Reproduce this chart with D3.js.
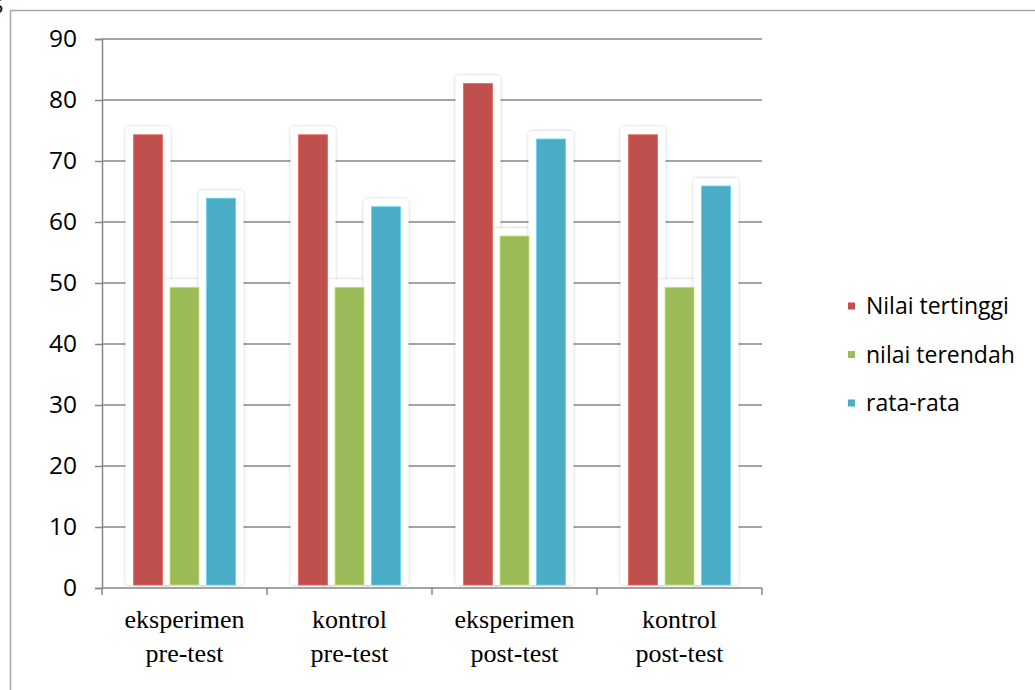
<!DOCTYPE html>
<html>
<head>
<meta charset="utf-8">
<script src="https://cdn.jsdelivr.net/npm/d3@7"></script>
<style>
  html, body { margin: 0; padding: 0; background: #fff; }
  svg { display: block; }
</style>
</head>
<body>
<svg id="chart" width="1035" height="690"></svg>
<script>
// Test groups (two-line labels)
const categories = [
  ["eksperimen", "pre-test"],
  ["kontrol", "pre-test"],
  ["eksperimen", "post-test"],
  ["kontrol", "post-test"]
];
const seriesNames = ["Nilai tertinggi", "nilai terendah", "rata-rata"];
const nilaiTertinggi = [74.3, 74.3, 82.7, 74.3];
const nilaiTerendah  = [49.3, 49.3, 57.7, 49.3];
const rataRata       = [63.9, 62.5, 73.6, 65.9];
const yTicks = [0, 10, 20, 30, 40, 50, 60, 70, 80, 90];
const colors = ["#C0504D", "#9BBB59", "#4BACC6"];

const seriesValues = [nilaiTertinggi, nilaiTerendah, rataRata];

const svg = d3.select("#chart");

// soft shadow behind the white bar halo
const defs = svg.append("defs");
const f = defs.append("filter").attr("id", "halo")
  .attr("x", "-30%").attr("y", "-30%").attr("width", "160%").attr("height", "160%");
f.append("feDropShadow").attr("dx", 0).attr("dy", 0)
  .attr("stdDeviation", 1.8).attr("flood-color", "#000").attr("flood-opacity", 0.25);

// outer frame
svg.append("path")
  .attr("d", "M10.5,700 L10.5,10.5 L1040,10.5")
  .attr("fill", "none").attr("stroke", "#a6a6a6").attr("stroke-width", 1.5);

svg.append("text")
  .attr("x", -7).attr("y", 13)
  .attr("font-family", "Liberation Serif").attr("font-size", 20)
  .attr("fill", "#000").text("5");

const plot = { left: 102, right: 762, top: 39, bottom: 588 };

const x = d3.scaleBand()
  .domain(d3.range(categories.length))
  .range([plot.left, plot.right])
  .paddingInner(0).paddingOuter(0);

const y = d3.scaleLinear().domain([0, 90]).range([plot.bottom, plot.top]);

const g = svg.append("g");

// horizontal gridlines
g.selectAll("line.grid")
  .data(yTicks.filter(d => d > 0))
  .join("line")
  .attr("class", "grid")
  .attr("x1", plot.left).attr("x2", plot.right)
  .attr("y1", d => y(d)).attr("y2", d => y(d))
  .attr("stroke", "#868686").attr("stroke-width", 1.5);

// y axis
const yAxis = d3.axisLeft(y).tickValues(yTicks).tickSize(7).tickPadding(18);
const yg = g.append("g").attr("transform", `translate(${plot.left},0)`).call(yAxis);
yg.select(".domain").attr("stroke", "#868686").attr("stroke-width", 1.5);
yg.selectAll(".tick line").attr("stroke", "#868686").attr("stroke-width", 1.5);
yg.selectAll(".tick text")
  .attr("font-family", "'Open Sans', Lato, sans-serif")
  .attr("font-size", 24.5).attr("fill", "#000");

// bars
const barW = 29, gap = 7.5;
const groupW = barW * 3 + gap * 2;
const bars = [];
categories.forEach((c, i) => {
  seriesValues.forEach((vals, s) => {
    bars.push({ cat: i, s, v: vals[i] });
  });
});
const bx = d => x(d.cat) + x.bandwidth() / 2 - groupW / 2 + d.s * (barW + gap);

const halo = 8;
g.selectAll("rect.halo").data(bars).join("rect")
  .attr("class", "halo")
  .attr("x", d => bx(d) - halo)
  .attr("y", d => y(d.v) - halo)
  .attr("width", barW + halo * 2)
  .attr("height", d => y(0) - 3 - y(d.v) + halo)
  .attr("rx", 4)
  .attr("fill", "#fff")
  .attr("filter", "url(#halo)");

g.selectAll("rect.bar").data(bars).join("rect")
  .attr("class", "bar")
  .attr("x", d => bx(d))
  .attr("y", d => y(d.v))
  .attr("width", barW)
  .attr("height", d => y(0) - 3 - y(d.v))
  .attr("fill", d => colors[d.s])
  .attr("stroke", d => d3.color(colors[d.s]).brighter(0.6))
  .attr("stroke-width", 0.8);

// x axis
const xg = g.append("g").attr("transform", `translate(0,${plot.bottom})`);
xg.append("line")
  .attr("x1", plot.left).attr("x2", plot.right)
  .attr("stroke", "#868686").attr("stroke-width", 1.5);
xg.selectAll("line.tick")
  .data(d3.range(categories.length + 1))
  .join("line").attr("class", "tick")
  .attr("x1", d => plot.left + d * x.bandwidth())
  .attr("x2", d => plot.left + d * x.bandwidth())
  .attr("y1", 0).attr("y2", 7)
  .attr("stroke", "#868686").attr("stroke-width", 1.5);

const lbl = xg.selectAll("text.cat").data(categories).join("text")
  .attr("class", "cat")
  .attr("text-anchor", "middle")
  .attr("font-family", "'Liberation Serif', 'Times New Roman', serif")
  .attr("font-size", 26).attr("fill", "#000");
lbl.selectAll("tspan").data((d, i) => d.map(t => ({ t, i }))).join("tspan")
  .attr("x", d => x(d.i) + x.bandwidth() / 2)
  .attr("y", (d, j) => 40 + j * 34)
  .text(d => d.t);

// legend
const leg = svg.append("g").attr("transform", "translate(848,306)");
const li = leg.selectAll("g").data(seriesNames).join("g")
  .attr("transform", (d, i) => `translate(0,${i * 48.5})`);
li.append("rect")
  .attr("x", 0).attr("y", -3.5).attr("width", 7).attr("height", 7)
  .attr("fill", (d, i) => colors[i]);
li.append("text")
  .attr("x", 18).attr("y", 0).attr("dy", "0.35em")
  .attr("font-family", "'Open Sans', Lato, sans-serif")
  .attr("font-size", 23).attr("fill", "#000")
  .text(d => d);
</script>
</body>
</html>
